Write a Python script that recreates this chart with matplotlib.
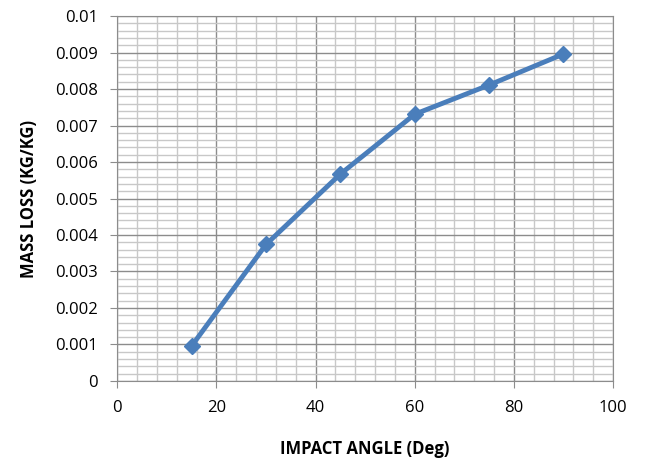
import matplotlib.pyplot as plt
from matplotlib.ticker import MultipleLocator

plt.rcParams['font.family'] = ['Open Sans', 'DejaVu Sans']

angle = [15, 30, 45, 60, 75, 90]
mass_loss = [0.00096, 0.00374, 0.00567, 0.00731, 0.00811, 0.00896]

fig = plt.figure(figsize=(6.48, 4.59), dpi=100)
ax = fig.add_axes([0.181, 0.170, 0.765, 0.795])

ax.plot(angle, mass_loss, color='#4a7ebb', linewidth=3.5, marker='D',
        markersize=8.5, zorder=3)

ax.set_xlim(0, 100)
ax.set_ylim(0, 0.01)
ax.xaxis.set_major_locator(MultipleLocator(20))
ax.xaxis.set_minor_locator(MultipleLocator(4))
ax.yaxis.set_major_locator(MultipleLocator(0.001))
ax.yaxis.set_minor_locator(MultipleLocator(0.0002))
ax.set_yticks([i / 1000 for i in range(11)])
ax.set_yticklabels(['0'] + ['0.%03d' % i for i in range(1, 10)] + ['0.01'])
ax.grid(which='major', color='#8c8c8c', linewidth=1.0)
ax.grid(which='minor', color='#c8c8c8', linewidth=1.0)
ax.set_axisbelow(True)
ax.tick_params(which='major', direction='out', length=5, color='#8c8c8c',
               labelsize=12, pad=9)
ax.tick_params(which='minor', length=0)
for s in ax.spines.values():
    s.set_color('#8c8c8c')

ax.set_xlabel('IMPACT ANGLE (Deg)', fontsize=12, fontweight='bold', labelpad=17)
ax.set_ylabel('MASS LOSS (KG/KG)', fontsize=12, fontweight='bold', labelpad=12)

fig.savefig('out.png', dpi=100)
